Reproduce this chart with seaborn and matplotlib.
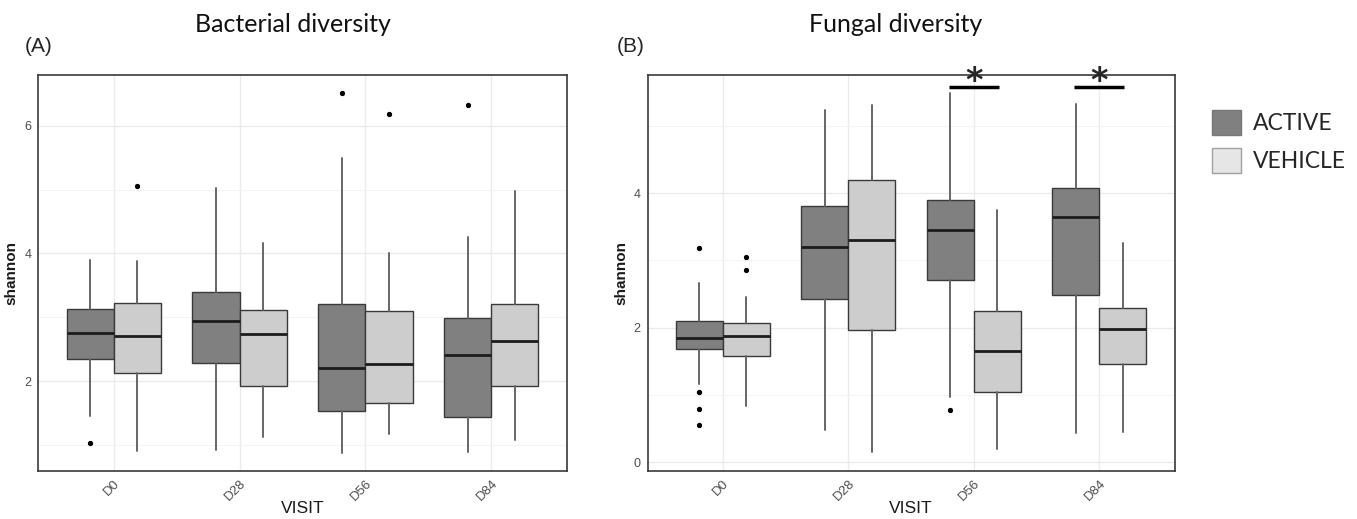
import numpy as np
import matplotlib.pyplot as plt
import seaborn as sns
from matplotlib.patches import Patch
from matplotlib.ticker import MultipleLocator

sns.set_style("white")
plt.rcParams['font.family'] = ['Liberation Sans', 'DejaVu Sans']

# Dados
visits = ["D0", "D28", "D56", "D84"]
groups = ["ACTIVE", "VEHICLE"]

# (bigode inferior, Q1, mediana, Q3, bigode superior)
bact_active = [(1.46, 2.35, 2.75, 3.13, 3.89), (0.92, 2.29, 2.94, 3.40, 5.03),
               (0.88, 1.53, 2.20, 3.21, 5.50), (0.89, 1.43, 2.41, 2.99, 4.25)]
bact_active_out = [[1.03], [], [6.52], [6.32]]
bact_vehicle = [(0.91, 2.13, 2.70, 3.23, 3.88), (1.13, 1.92, 2.73, 3.12, 4.16),
                (1.17, 1.65, 2.26, 3.10, 4.01), (1.08, 1.92, 2.63, 3.21, 4.97)]
bact_vehicle_out = [[5.05], [], [6.19], []]

fung_active = [(1.16, 1.68, 1.84, 2.10, 2.67), (0.47, 2.43, 3.20, 3.81, 5.24),
               (0.97, 2.71, 3.45, 3.90, 5.48), (0.43, 2.49, 3.65, 4.07, 5.33)]
fung_active_out = [[3.18, 1.04, 0.79, 0.55], [], [0.78], []]
fung_vehicle = [(0.83, 1.57, 1.88, 2.07, 2.46), (0.15, 1.96, 3.30, 4.20, 5.31),
                (0.19, 1.04, 1.65, 2.24, 3.75), (0.45, 1.46, 1.98, 2.29, 3.25)]
fung_vehicle_out = [[3.05, 2.85], [], [], []]

signif_visits = ["D56", "D84"]
signif_height = 5.58

#Estilo
ACTIVE_FILL = "#808080"
VEHICLE_FILL = "#cdcdcd"
W = 1357
H = 519


def draw_panel(ax, active, active_out, vehicle, vehicle_out, ylim, yticks):
    pos = np.arange(len(visits))
    for stats, outs, off, fill in [(active, active_out, -0.1875, ACTIVE_FILL),
                                   (vehicle, vehicle_out, 0.1875, VEHICLE_FILL)]:
        bx = [dict(whislo=s[0], q1=s[1], med=s[2], q3=s[3], whishi=s[4], fliers=o)
              for s, o in zip(stats, outs)]
        ax.bxp(bx, positions=pos + off, widths=0.375, patch_artist=True,
               showcaps=False, manage_ticks=False,
               boxprops=dict(facecolor=fill, edgecolor="#3a3a3a", linewidth=1.0),
               whiskerprops=dict(color="#666666", linewidth=1.4),
               medianprops=dict(color="#1c1c1c", linewidth=2.0),
               flierprops=dict(marker="o", markersize=2.8, markerfacecolor="black",
                               markeredgecolor="black"))
    ax.set_xlim(-0.6, len(visits) - 0.4)
    ax.set_ylim(*ylim)
    ax.set_xticks(pos)
    ax.set_xticklabels(visits, rotation=45, ha="right", va="top", rotation_mode="anchor")
    ax.set_yticks(yticks)
    ax.yaxis.set_minor_locator(MultipleLocator(1))
    ax.grid(True, which="major", color="#ebebeb", linewidth=1.0)
    ax.grid(True, which="minor", axis="y", color="#f3f3f3", linewidth=0.7)
    ax.set_axisbelow(True)
    for s in ax.spines.values():
        s.set_color("#3a3a3a")
        s.set_linewidth(1.2)
    ax.tick_params(which="major", length=3, width=0.8, color="#444444",
                   labelcolor="#4d4d4d", labelsize=9, pad=2)
    ax.tick_params(axis="x", labelsize=9.5)
    ax.tick_params(which="minor", length=0)
    ax.set_ylabel("shannon", fontsize=11, fontweight="bold", color="#1a1a1a")
    ax.yaxis.set_label_coords(-0.037, 0.5)
    ax.set_xlabel("VISIT", fontsize=12.5, color="#1a1a1a")
    ax.xaxis.set_label_coords(0.5, -0.077)


fig = plt.figure(figsize=(W / 100, H / 100), dpi=100)
ax1 = fig.add_axes([38.3 / W, 48.5 / H, 528.5 / W, 395.5 / H])
ax2 = fig.add_axes([647.5 / W, 48.5 / H, 527.2 / W, 395.5 / H])

draw_panel(ax1, bact_active, bact_active_out, bact_vehicle, bact_vehicle_out,
           (0.599, 6.795), [2, 4, 6])
draw_panel(ax2, fung_active, fung_active_out, fung_vehicle, fung_vehicle_out,
           (-0.125, 5.755), [0, 2, 4])

# asteriscos de significância
for v in signif_visits:
    i = visits.index(v)
    ax2.plot([i - 0.2, i + 0.2], [signif_height, signif_height], color="black",
             linewidth=2.5, clip_on=False, solid_capstyle="butt")
    ax2.annotate("*", xy=(i, signif_height), xytext=(0, -3), textcoords="offset points",
                 ha="center", va="baseline", fontsize=24, fontweight="bold",
                 annotation_clip=False, family="DejaVu Sans")

fig.text(292.5 / W, 1 - 25 / H, "Bacterial diversity", ha="center", va="center",
         fontsize=18, family="Lato", color="#111111")
fig.text(896 / W, 1 - 25 / H, "Fungal diversity", ha="center", va="center",
         fontsize=18, family="Lato", color="#111111")
fig.text(25 / W, 1 - 46 / H, "(A)", ha="left", va="center", fontsize=15)
fig.text(617 / W, 1 - 46 / H, "(B)", ha="left", va="center", fontsize=15)

handles = [Patch(facecolor="#808080", edgecolor="#777777", linewidth=1.0),
           Patch(facecolor="#e6e6e6", edgecolor="#a0a0a0", linewidth=1.0)]
fig.legend(handles, groups, loc="upper left", bbox_to_anchor=(1211.7 / W, 1 - 110 / H),
           frameon=False, borderpad=0, borderaxespad=0, handlelength=1.3,
           handleheight=1.3, handletextpad=0.5, labelspacing=0.55,
           prop={"family": "Lato", "size": 16.5})

fig.savefig("out.png", dpi=100)
